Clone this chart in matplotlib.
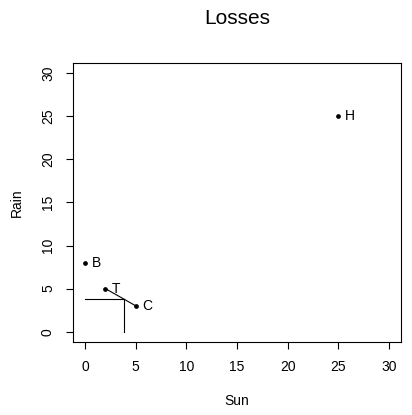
import matplotlib
matplotlib.use("Agg")
import matplotlib.pyplot as plt

plt.rcParams['font.family'] = ['Liberation Sans', 'DejaVu Sans']

labels = ["B", "T", "C", "H"]
sun = [0, 2, 5, 25]
rain = [8, 5, 3, 25]
# segment between T and C, and guide lines to the point where Sun == Rain on it
seg_x = [2, 5]
seg_y = [5, 3]
cross = 3.8
ticks = [0, 5, 10, 15, 20, 25, 30]

fig = plt.figure(figsize=(4.12, 4.15), dpi=100)
ax = fig.add_axes([73/412, 1-342/415, (401-73)/412, (342-63)/415])

lw = 0.8
ax.plot(sun, rain, linestyle='none', marker='o', markersize=2.4, color='black')
ax.plot(seg_x, seg_y, color='black', lw=lw)
ax.plot([0, cross], [cross, cross], color='black', lw=lw)
ax.plot([cross, cross], [cross, 0], color='black', lw=lw)
for lab, x, y in zip(labels, sun, rain):
    ax.annotate(lab, (x, y), xytext=(4.5, 0), textcoords='offset points',
                ha='left', va='center', fontsize=10)

ax.set_xlim(-1.2, 31.2)
ax.set_ylim(-1.2, 31.2)
ax.set_xticks(ticks)
ax.set_yticks(ticks)
ax.set_xticklabels([str(t) for t in ticks], fontsize=10)
ax.set_yticklabels([str(t) for t in ticks], fontsize=10, rotation=90, va='center')
ax.tick_params(direction='out', length=5, width=lw, pad=8)
for s in ax.spines.values():
    s.set_linewidth(lw)
ax.set_xlabel("Sun", fontsize=10, labelpad=14)
ax.set_ylabel("Rain", fontsize=10, labelpad=12)
fig.text(237/412, 1-18/415, "Losses", ha='center', va='center', fontsize=15)

fig.savefig("out.png", dpi=100)
